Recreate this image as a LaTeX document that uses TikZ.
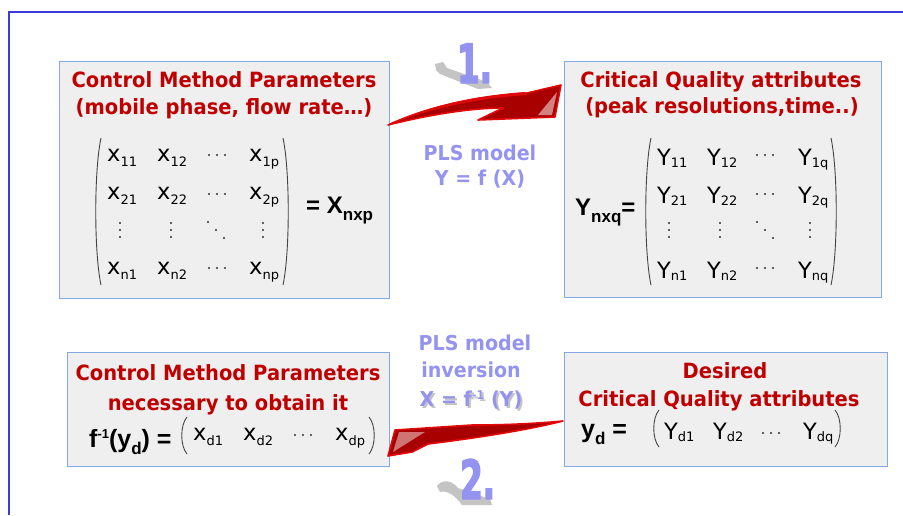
\documentclass[tikz,border=0pt]{standalone}
\usepackage{fontspec}
\setmainfont{DejaVu Sans}
\newfontfamily\comic{DejaVu Sans}[FakeStretch=0.93]
\newfontfamily\numf{DejaVu Sans}[FakeStretch=0.6, BoldFeatures={FakeBold=2.5}]
\newfontfamily\arb{Liberation Sans}
\usetikzlibrary{calc}
\definecolor{hred}{HTML}{C00000}
\definecolor{lav}{HTML}{9494F0}
\definecolor{boxfill}{HTML}{EFEFEF}
\definecolor{boxline}{HTML}{86A8E2}
\definecolor{framec}{HTML}{3B3BD6}
\definecolor{shadowg}{HTML}{C4C4C4}
\definecolor{parc}{HTML}{444444}
\definecolor{dotc}{HTML}{333333}
\definecolor{ared}{HTML}{E00808}
\definecolor{adark}{HTML}{A80000}
\newcommand\ent[2]{#1\raisebox{-5pt}{\fontsize{13}{13}\selectfont #2}}
\newcommand\entY[2]{#1\raisebox{-2pt}{\fontsize{13}{13}\selectfont #2}}
\newcommand\sbx[1]{\raisebox{-7pt}{\fontsize{17}{17}\selectfont #1}}
\newcommand\lpar[3]{\draw[parst] ({#1+4},{-#2}) .. controls ({#1-3},{-#2-0.22*(#3-#2)}) and ({#1-3},{-#3+0.22*(#3-#2)}) .. ({#1+4},{-#3});}
\newcommand\rpar[3]{\draw[parst] ({#1-4},{-#2}) .. controls ({#1+3},{-#2-0.22*(#3-#2)}) and ({#1+3},{-#3+0.22*(#3-#2)}) .. ({#1-4},{-#3});}
\newcommand\hdots[2]{\foreach \dd in {-8,0,8} {\fill[dotc] ({#1+\dd},{-#2}) circle (1.1);}}
\newcommand\vdts[2]{\foreach \dd in {-7,0,7} {\fill[dotc] ({#1},{-#2+\dd}) circle (1.2);}}
\newcommand\ddts[2]{\foreach \dd in {-8,0,8} {\fill[dotc] ({#1+\dd},{-#2-\dd}) circle (1.2);}}
\tikzset{
  box/.style={draw=boxline, fill=boxfill, line width=1, inner sep=0},
  hd/.style={text=hred, font=\comic\bfseries\fontsize{21}{24}\selectfont, inner sep=0, anchor=base},
  pls/.style={text=lav, font=\comic\bfseries\fontsize{20.5}{24}\selectfont, inner sep=0, anchor=base},
  ent/.style={inner sep=0, anchor=base west, font=\fontsize{22.5}{22}\selectfont},
  bm/.style={inner sep=0, anchor=base west, font=\arb\bfseries\fontsize{24}{24}\selectfont},
  parst/.style={draw=parc, line width=0.9},
  num/.style={text=lav, inner sep=0, anchor=base west, font=\numf\bfseries\fontsize{54}{54}\selectfont},
  arrowbody/.style={fill=adark, draw=ared, line width=1.6, line join=round},
}
\begin{document}
\begin{tikzpicture}[x=1pt,y=1pt]
\useasboundingbox (0,0) rectangle (903,-515);
\fill[white] (0,0) rectangle (903,-515);
% frame
\draw[framec, line width=2] (9,-515) -- (9,-12) -- (903,-12);

% boxes
\node[box, minimum width=330, minimum height=237] (b1) at (224,-179.5) {};
\node[box, minimum width=317, minimum height=236] (b2) at (722.5,-179) {};
\node[box, minimum width=322, minimum height=114] (b3) at (228,-409) {};
\node[box, minimum width=323, minimum height=114] (b4) at (725.5,-409) {};

% headings
\node[hd] (h1a) at (224,-87) {Control Method Parameters};
\node[hd] (h1b) at (224,-114) {(mobile phase, flow rate…)};
\node[hd] (h2a) at (721,-87) {Critical Quality attributes};
\node[hd] (h2b) at (722,-113) {(peak resolutions,time..)};
\node[hd] (h3a) at (228,-380) {Control Method Parameters};
\node[hd] (h3b) at (228,-410) {necessary to obtain it};
\node[hd] (h4a) at (725,-378) {Desired};
\node[hd] (h4b) at (719,-406) {Critical Quality attributes};

% matrix X
\lpar{97}{138}{285}
\rpar{287}{138}{285}
\node[ent] (x11) at (107,-161) {\ent{x}{11}};
\node[ent] (x12) at (157,-161) {\ent{x}{12}};
\node[ent] (x1p) at (249,-161) {\ent{x}{1p}};
\node[ent] (x21) at (107,-199) {\ent{x}{21}};
\node[ent] (x22) at (157,-199) {\ent{x}{22}};
\node[ent] (x2p) at (249,-199) {\ent{x}{2p}};
\node[ent] (xn1) at (107,-274) {\ent{x}{n1}};
\node[ent] (xn2) at (157,-274) {\ent{x}{n2}};
\node[ent] (xnp) at (249,-274) {\ent{x}{np}};
\hdots{217}{155}
\hdots{217}{194}
\hdots{217}{268}
\vdts{120}{230}
\vdts{171}{230}
\ddts{216}{230}
\vdts{263}{230}
\node[bm] (xeq) at (306,-213) {= X\sbx{nxp}};

% matrix Y
\node[bm] (yeq) at (575,-215) {Y\sbx{nxq}=};
\lpar{647}{138}{285}
\rpar{835}{138}{285}
\node[ent] (y11) at (657,-165) {\entY{Y}{11}};
\node[ent] (y12) at (707,-165) {\entY{Y}{12}};
\node[ent] (y1q) at (798,-165) {\entY{Y}{1q}};
\node[ent] (y21) at (657,-203) {\entY{Y}{21}};
\node[ent] (y22) at (707,-203) {\entY{Y}{22}};
\node[ent] (y2q) at (798,-203) {\entY{Y}{2q}};
\node[ent] (yn1) at (657,-278) {\entY{Y}{n1}};
\node[ent] (yn2) at (707,-278) {\entY{Y}{n2}};
\node[ent] (ynq) at (798,-278) {\entY{Y}{nq}};
\hdots{765}{155}
\hdots{765}{194}
\hdots{765}{268}
\vdts{669}{230}
\vdts{720}{230}
\ddts{765}{230}
\vdts{810}{230}

% box 3 vector
\node[bm, font=\arb\bfseries\fontsize{25}{25}\selectfont] (finv) at (89,-447) {f\raisebox{9pt}{\fontsize{13}{13}\selectfont -1}(y\sbx{d}) =};
\lpar{183}{417}{454}
\rpar{373}{417}{454}
\node[ent] (xd1) at (193,-440) {\ent{x}{d1}};
\node[ent] (xd2) at (243,-440) {\ent{x}{d2}};
\hdots{303}{435}
\node[ent] (xdp) at (335,-440) {\ent{x}{dp}};

% box 4 vector
\node[bm, font=\arb\bfseries\fontsize{25}{25}\selectfont] (yd) at (581,-437) {y\sbx{d} =};
\lpar{655}{410}{447}
\rpar{839}{410}{447}
\node[ent] (yd1) at (664,-439) {\entY{Y}{d1}};
\node[ent] (yd2) at (713,-439) {\entY{Y}{d2}};
\hdots{771}{433}
\node[ent] (ydq) at (803,-439) {\entY{Y}{dq}};

% PLS labels
\node[pls] (p1) at (480,-160) {PLS model};
\node[pls] (p2) at (480,-185) {Y = f (X)};
\node[pls] (p3) at (475,-350) {PLS model};
\node[pls] (p4) at (471,-377) {inversion};
\node[pls, text=shadowg] (p5s) at (473,-408) {X = f\raisebox{7pt}{\fontsize{12}{12}\selectfont -1} (Y)};
\node[pls] (p5) at (471,-406) {X = f\raisebox{7pt}{\fontsize{12}{12}\selectfont -1} (Y)};

% number shadows
\fill[shadowg] (435,-64) -- (443,-62) -- (447,-68) -- (487,-82) -- (492,-88) -- (478,-89) -- (440,-74) -- (436,-70) -- cycle;
\fill[shadowg] (437,-486) .. controls (442,-479) and (452,-480) .. (458,-488) -- (490,-499) -- (492,-505) -- (462,-505) .. controls (455,-495) and (447,-490) .. (440,-492) -- cycle;
\node[num] (n1) at (457,-83) {1.};
\node[num] (n2) at (460,-499) {2.};

% arrow 1 : b1 -> b2
\coordinate (a1s) at (388,-125);
\coordinate (a1e) at (561,-85);
\fill[arrowbody] (a1s) .. controls (425,-108) and (470,-97) .. (527,-93) -- (a1e) -- (555,-117) -- (478,-120) -- (503,-108) .. controls (470,-108) and (428,-115) .. (a1s) -- cycle;
\fill[ared] (a1s) .. controls (425,-110) and (470,-99) .. (527,-95) -- (525,-92) .. controls (470,-96) and (425,-107) .. (a1s) -- cycle;
\fill[white, opacity=0.5] (538,-115) -- (557,-92) -- (552,-115) -- cycle;

% arrow 2 : b4 -> b3
\coordinate (a2s) at (563,-421);
\coordinate (a2e) at (388,-456);
\fill[arrowbody] (a2s) .. controls (530,-424) and (500,-425) .. (472,-425) -- (395,-430) -- (a2e) -- (412,-452) -- (428,-444) .. controls (460,-440) and (520,-432) .. (a2s) -- cycle;
\fill[white, opacity=0.45] (393,-452) -- (399,-432) -- (425,-432) -- cycle;
\end{tikzpicture}
\end{document}
